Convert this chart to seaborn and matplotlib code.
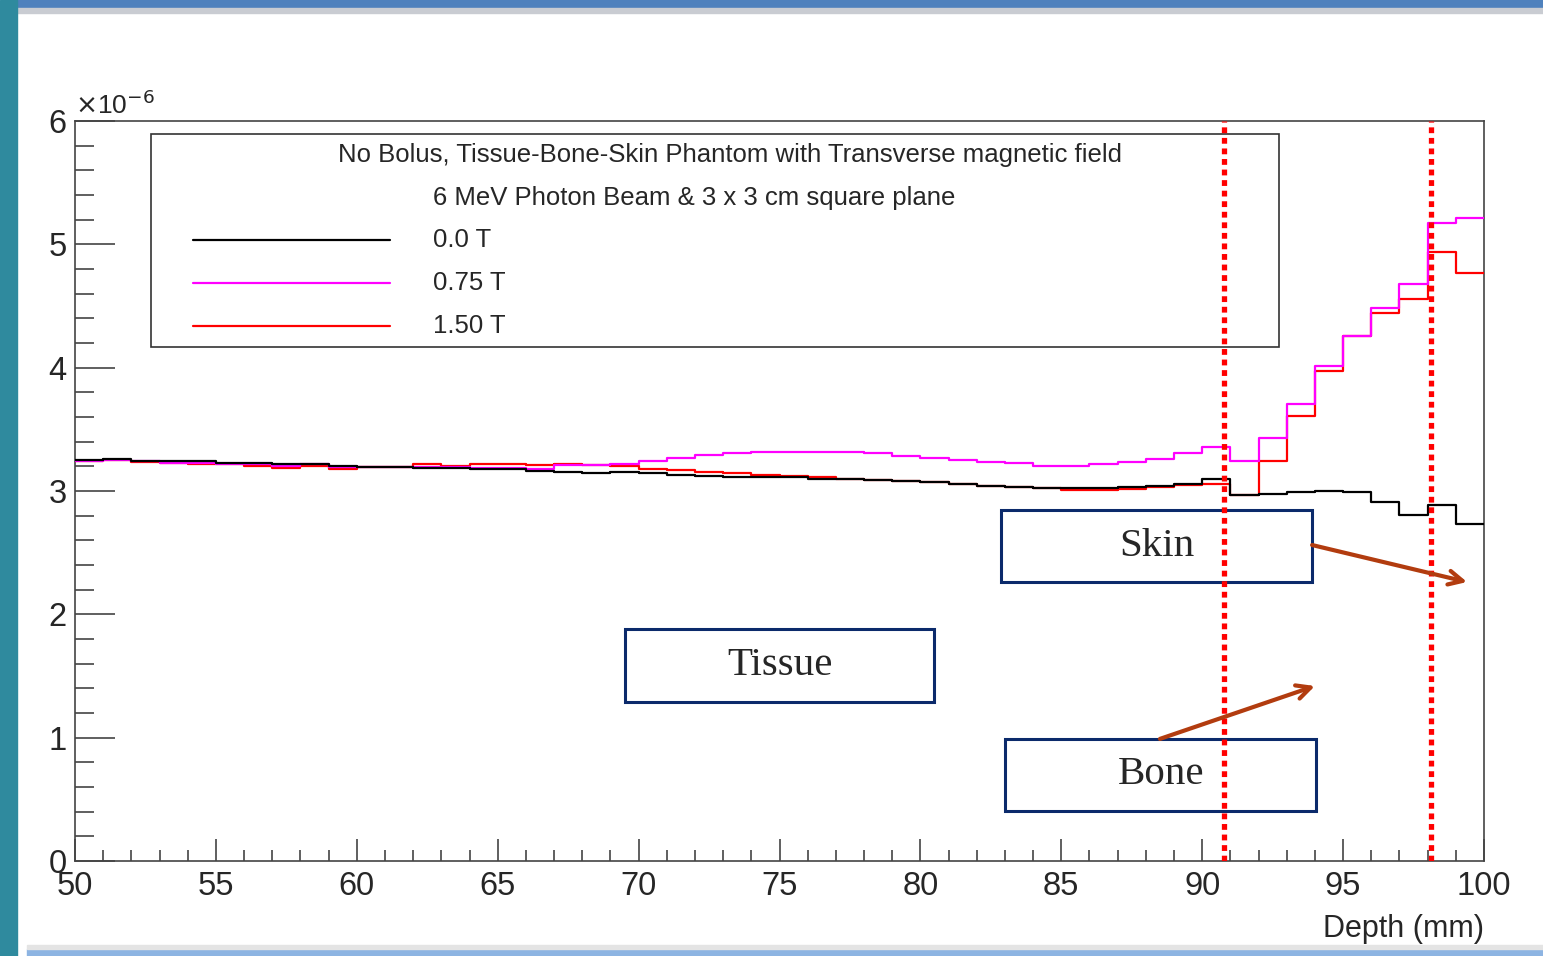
import numpy as np
import pandas as pd
import matplotlib
matplotlib.use("Agg")
import matplotlib.pyplot as plt
from matplotlib.patches import Rectangle
from matplotlib.ticker import MultipleLocator
import seaborn as sns

# bin edges (mm) and dose per bin in units of 1e-6
edges = list(range(50, 101))
dose_0T = [3.252, 3.26, 3.244, 3.244, 3.244, 3.23, 3.225, 3.217, 3.217, 3.204,
           3.198, 3.198, 3.19, 3.185, 3.177, 3.177, 3.163, 3.152, 3.144, 3.157,
           3.144, 3.13, 3.122, 3.117, 3.111, 3.11, 3.10, 3.097, 3.09, 3.082,
           3.07, 3.057, 3.044, 3.036, 3.028, 3.022, 3.022, 3.03, 3.04, 3.06,
           3.10, 2.968, 2.976, 2.99, 3.003, 2.99, 2.914, 2.806, 2.887, 2.733]
dose_075T = [3.247, 3.25, 3.24, 3.225, 3.225, 3.217, 3.217, 3.204, 3.217, 3.198,
             3.198, 3.198, 3.198, 3.198, 3.19, 3.19, 3.18, 3.21, 3.21, 3.22,
             3.247, 3.27, 3.29, 3.307, 3.315, 3.32, 3.32, 3.32, 3.307, 3.28,
             3.27, 3.252, 3.238, 3.225, 3.206, 3.206, 3.22, 3.238, 3.26, 3.307,
             3.36, 3.247, 3.433, 3.704, 4.015, 4.258, 4.482, 4.68, 5.17, 5.21]
dose_150T = [3.247, 3.25, 3.233, 3.225, 3.217, 3.217, 3.206, 3.19, 3.204, 3.18,
             3.198, 3.198, 3.217, 3.206, 3.22, 3.22, 3.21, 3.22, 3.21, 3.206,
             3.18, 3.17, 3.155, 3.144, 3.13, 3.122, 3.11, 3.10, 3.09, 3.08,
             3.07, 3.057, 3.044, 3.036, 3.028, 3.01, 3.01, 3.02, 3.03, 3.05,
             3.057, 2.968, 3.244, 3.609, 3.974, 4.258, 4.44, 4.56, 4.94, 4.77]
labels = ["0.0 T", "0.75 T", "1.50 T"]
colors = ["black", "#ff00ff", "#ff0000"]
boundaries = [90.77, 98.12]   # tissue/bone and bone/skin interfaces

sns.set_theme(style="ticks")
plt.rcParams['font.family'] = ['Liberation Sans', 'DejaVu Sans']

fig = plt.figure(figsize=(15.43, 9.56), dpi=100)
ax = fig.add_axes([75/1543, 95/956, 1409/1543, 740/956])

centers = [e + 0.5 for e in edges[:-1]]
# draw order: red, magenta, black on top
for vals, c in [(dose_150T, colors[2]), (dose_075T, colors[1]), (dose_0T, colors[0])]:
    df = pd.DataFrame({"depth": centers, "dose": vals})
    sns.histplot(data=df, x="depth", weights="dose", bins=edges, element="step",
                 fill=False, color=c, linewidth=1.6, ax=ax, zorder=4)

ax.set_xlim(50, 100)
ax.set_ylim(0, 6)
ax.set_ylabel("")
ax.set_xlabel("Depth (mm)", loc="right", fontsize=22, labelpad=9)
ax.xaxis.set_major_locator(MultipleLocator(5))
ax.xaxis.set_minor_locator(MultipleLocator(1))
ax.yaxis.set_major_locator(MultipleLocator(1))
ax.yaxis.set_minor_locator(MultipleLocator(0.2))
ax.tick_params(axis='x', which='major', direction='in', length=16, width=1.2,
               color='#444', labelsize=23.5, pad=7)
ax.tick_params(axis='x', which='minor', direction='in', length=8, width=1.2, color='#444')
ax.tick_params(axis='y', which='major', direction='in', length=29, width=1.2,
               color='#444', labelsize=23.5, pad=6)
ax.tick_params(axis='y', which='minor', direction='in', length=14, width=1.2, color='#444')
for s in ax.spines.values():
    s.set_visible(True)
    s.set_color('#444')
    s.set_linewidth(1.2)
ax.text(0.0, 1.003, r"$\times$10$^{-6}$", transform=ax.transAxes, fontsize=19,
        ha='left', va='bottom')

# interface lines
for b in boundaries:
    ax.axvline(b, color='red', lw=3.8, ls=(0, (1.1, 0.9)), zorder=6)

# legend box
ax.add_patch(Rectangle((0.0539, 0.6946), 0.8006, 0.2878, transform=ax.transAxes,
                       facecolor='white', edgecolor='#333', lw=1.2, zorder=5))
ax.text(0.4649, 0.954, "No Bolus, Tissue-Bone-Skin Phantom with Transverse magnetic field",
        transform=ax.transAxes, ha='center', va='center', fontsize=18.5, zorder=7)
ax.text(0.254, 0.896, "6 MeV Photon Beam & 3 x 3 cm square plane",
        transform=ax.transAxes, ha='left', va='center', fontsize=18.5, zorder=7)
for lab, c, yy in zip(labels, colors, [0.839, 0.781, 0.723]):
    ax.plot([0.0837, 0.2236], [yy, yy], color=c, lw=1.6, transform=ax.transAxes, zorder=7)
    ax.text(0.254, yy, lab, transform=ax.transAxes, ha='left', va='center',
            fontsize=18.5, zorder=7)

# region boxes
navy = '#0b2a6b'
for name, x0, y0, w, h in [("Skin", 0.657, 0.377, 0.221, 0.097),
                           ("Tissue", 0.390, 0.215, 0.220, 0.0985),
                           ("Bone", 0.660, 0.0676, 0.221, 0.0974)]:
    ax.add_patch(Rectangle((x0, y0), w, h, transform=ax.transAxes, facecolor='white',
                           edgecolor=navy, lw=2.2, zorder=5))
    ax.text(x0 + w / 2, y0 + h / 2, name, transform=ax.transAxes, ha='center',
            va='center', fontsize=29.5, family='Liberation Serif', zorder=7)

arrow_c = '#b23c0f'
ax.annotate("", xy=(0.988, 0.377), xytext=(0.878, 0.427), xycoords='axes fraction',
            arrowprops=dict(arrowstyle='->', color=arrow_c, lw=3,
                            mutation_scale=25, shrinkA=0, shrinkB=0), zorder=7)
ax.annotate("", xy=(0.880, 0.2365), xytext=(0.770, 0.165), xycoords='axes fraction',
            arrowprops=dict(arrowstyle='->', color=arrow_c, lw=3,
                            mutation_scale=25, shrinkA=0, shrinkB=0), zorder=7)

# slide decoration
fig.add_artist(Rectangle((16/1543, 1 - 8/956), 1, 8/956, transform=fig.transFigure,
                         color='#4f81bd', zorder=0))
fig.add_artist(Rectangle((16/1543, 1 - 13/956), 1, 5/956, transform=fig.transFigure,
                         color='#c9ccd2', zorder=0))
fig.add_artist(Rectangle((0, 0), 17/1543, 1, transform=fig.transFigure,
                         color='#2f8a9e', zorder=0))
fig.add_artist(Rectangle((27/1543, 0), 1, 7/956, transform=fig.transFigure,
                         color='#8db4e2', zorder=0))
fig.add_artist(Rectangle((27/1543, 7/956), 1, 4/956, transform=fig.transFigure,
                         color='#e4e4e4', zorder=0))

fig.savefig("out.png", dpi=100)
